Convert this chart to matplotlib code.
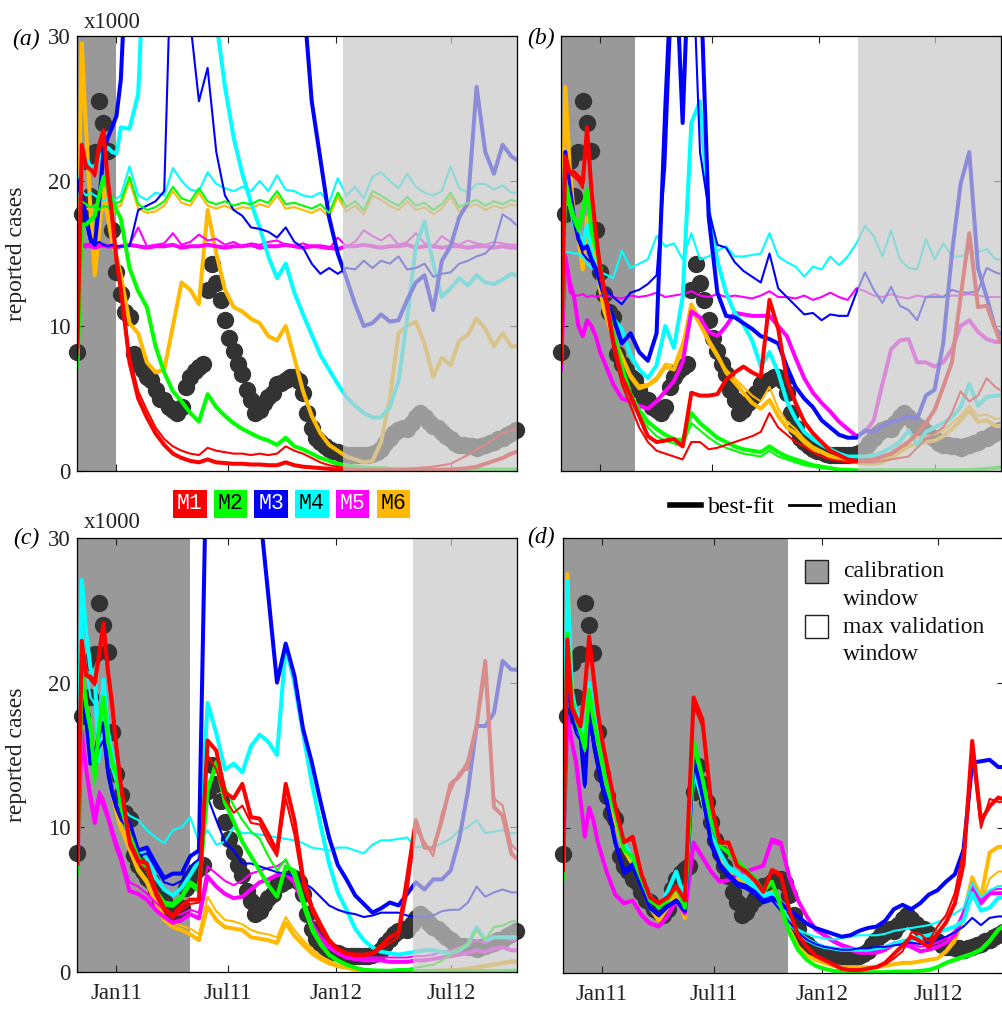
import numpy as np
import matplotlib
matplotlib.use("Agg")
import matplotlib.pyplot as plt
from matplotlib.lines import Line2D
from matplotlib.patches import Rectangle

plt.rcParams["font.family"] = ["Liberation Serif", "DejaVu Serif"]

# observed weekly reported cases (x1000), weeks since end of Oct 2010
obs_weeks = np.arange(102)
obs_cases = [8.2, 17.7, 21.4, 19.0, 22.0, 25.5, 24.0, 22.1, 16.6, 13.7,
             12.2, 11.0, 10.6, 8.1, 7.4, 7.0, 6.5, 6.3, 5.6, 5.0,
             4.9, 4.4, 4.2, 4.0, 4.4, 5.8, 6.5, 6.9, 7.2, 7.4,
             12.5, 14.3, 13.0, 11.8, 10.4, 9.2, 8.3, 7.4, 6.7, 5.6,
             4.9, 4.0, 4.2, 4.7, 5.1, 5.4, 6.0, 6.1, 6.3, 6.5,
             6.5, 6.2, 5.4, 4.0, 3.0, 2.3, 2.0, 1.7, 1.5, 1.4,
             1.3, 1.2, 1.1, 1.1, 1.1, 1.1, 1.1, 1.1, 1.2, 1.3,
             1.5, 1.9, 2.3, 2.6, 2.8, 3.0, 2.9, 3.3, 3.7, 4.0,
             3.7, 3.4, 3.1, 3.0, 2.7, 2.4, 2.2, 1.9, 1.8, 1.8,
             1.7, 1.7, 1.6, 1.7, 1.8, 1.9, 2.0, 2.2, 2.3, 2.5,
             2.6, 2.8]

# model output weeks
model_weeks = list(range(0, 10)) + list(range(10, 101, 2)) + [101]

# ---- panel (a) ----
a_m1_best = [8.6, 22.5, 21.0, 20.8, 20.5, 22.5, 23.5, 20.0, 17.5, 14.5,
             12.5, 7.5, 5.0, 3.7, 2.6, 1.8, 1.2, 0.9, 0.7, 0.6,
             0.8, 0.6, 0.55, 0.5, 0.5, 0.45, 0.45, 0.4, 0.4, 0.6,
             0.4, 0.3, 0.25, 0.2, 0.15, 0.1, 0.08, 0.06, 0.05, 0.05,
             0.05, 0.05, 0.05, 0.05, 0.05, 0.05, 0.06, 0.08, 0.1, 0.15,
             0.2, 0.3, 0.5, 0.7, 0.9, 1.2, 1.3]
a_m1_med = [8.0, 21.5, 21.2, 20.8, 20.3, 22.0, 23.0, 20.5, 18.0, 15.0,
            13.0, 8.0, 5.5, 4.2, 3.0, 2.2, 1.7, 1.4, 1.2, 1.1,
            1.6, 1.4, 1.3, 1.2, 1.2, 1.1, 1.2, 1.1, 1.2, 1.7,
            1.4, 1.2, 0.9, 0.6, 0.4, 0.3, 0.2, 0.15, 0.1, 0.1,
            0.1, 0.1, 0.1, 0.15, 0.2, 0.25, 0.3, 0.4, 0.5, 0.8,
            1.1, 1.5, 1.8, 2.2, 2.6, 2.8, 2.9]
a_m2_best = [7.2, 17.0, 17.0, 17.3, 17.6, 19.0, 20.3, 19.5, 18.6, 18.0,
             17.4, 14.0, 12.4, 11.3, 8.6, 6.8, 5.5, 4.8, 4.0, 3.4,
             5.3, 4.4, 3.8, 3.3, 2.9, 2.6, 2.3, 2.1, 1.8, 2.3,
             1.7, 1.5, 1.2, 0.9, 0.7, 0.5, 0.4, 0.3, 0.25, 0.2,
             0.2, 0.15, 0.15, 0.12, 0.12, 0.1, 0.1, 0.1, 0.1, 0.1,
             0.1, 0.1, 0.1, 0.1, 0.1, 0.1, 0.1]
a_m2_med = [18.7, 18.6, 18.4, 18.2, 18.3, 18.0, 18.3, 18.2, 17.9, 18.5,
            18.6, 20.3, 18.4, 18.0, 18.2, 18.6, 19.6, 18.8, 18.6, 19.5,
            18.6, 18.4, 18.6, 18.3, 18.5, 18.4, 18.7, 18.5, 19.3, 18.4,
            18.5, 18.3, 18.1, 18.4, 17.8, 19.2, 18.2, 18.6, 18.0, 19.3,
            19.0, 18.6, 18.3, 18.9, 18.3, 18.5, 18.0, 18.4, 19.2, 18.2,
            18.5, 18.7, 18.3, 18.6, 18.4, 18.7, 18.6]
a_m3_best = [20.0, 19.0, 17.5, 16.0, 15.6, 18.5, 22.0, 23.0, 23.7, 24.5,
             27.0, 40, 40, 40, 40, 40, 40, 40, 40, 40,
             40, 40, 40, 40, 40, 40, 40, 40, 40, 40,
             40, 33.0, 25.5, 21.5, 17.5, 15.0, 13.3, 11.5, 10.0, 10.2,
             10.8, 10.3, 10.4, 11.8, 13.0, 13.5, 11.1, 14.5, 15.5, 17.5,
             18.5, 26.5, 22.0, 20.5, 22.5, 21.7, 21.5]
a_m3_med = [20.0, 18.5, 17.0, 15.8, 15.6, 15.8, 15.6, 15.5, 15.6, 15.5,
            15.5, 15.5, 18.0, 18.3, 18.6, 19.3, 40, 40, 31.0, 25.5,
            27.8, 22.0, 19.0, 18.0, 17.6, 16.8, 16.7, 16.5, 16.1, 16.8,
            15.8, 15.4, 14.3, 13.6, 14.0, 13.6, 14.0, 13.9, 14.5, 14.0,
            14.5, 14.3, 14.8, 13.9, 14.0, 14.3, 13.4, 13.6, 13.7, 14.3,
            14.5, 14.8, 15.0, 15.6, 17.7, 17.3, 17.0]
a_m4_best = [19.0, 21.0, 21.5, 21.0, 21.0, 21.5, 22.0, 22.3, 22.0, 21.9,
             23.7, 23.6, 26.0, 40, 40, 40, 40, 40, 40, 40,
             40, 31.0, 26.5, 23.0, 20.5, 18.5, 16.8, 14.8, 13.3, 14.3,
             12.3, 10.8, 9.4, 8.0, 7.0, 6.0, 5.1, 4.5, 4.0, 3.7,
             3.7, 4.4, 6.2, 10.5, 15.5, 17.2, 14.3, 12.0, 12.6, 13.3,
             12.8, 13.5, 13.0, 12.9, 13.2, 13.6, 13.5]
a_m4_med = [19.3, 19.3, 19.0, 19.2, 19.0, 18.8, 18.6, 18.8, 18.5, 18.8,
            19.0, 21.0, 19.0, 18.7, 19.2, 19.0, 20.9, 20.0, 19.4, 19.3,
            20.6, 19.8, 19.5, 19.3, 19.6, 19.3, 20.0, 19.3, 20.4, 19.4,
            19.3, 19.0, 18.9, 19.2, 18.5, 20.2, 19.0, 19.6, 18.8, 20.3,
            20.6, 20.0, 19.5, 20.5, 19.6, 19.2, 19.0, 19.3, 21.0, 19.5,
            19.2, 19.8, 19.8, 19.4, 19.7, 19.2, 19.2]
a_m5_best = [15.4, 15.5, 15.6, 15.5, 15.4, 15.5, 15.6, 15.5, 15.5, 15.4,
             15.5, 15.6, 15.5, 15.4, 15.5, 15.5, 15.6, 15.4, 15.5, 15.5,
             15.6, 15.5, 15.4, 15.5, 15.5, 15.6, 15.4, 15.5, 15.5, 15.6,
             15.5, 15.4, 15.5, 15.5, 15.4, 15.3, 15.5, 15.5, 15.6, 15.5,
             15.4, 15.5, 15.5, 15.6, 15.4, 15.5, 15.5, 15.4, 15.5, 15.5,
             15.4, 15.5, 15.5, 15.4, 15.5, 15.4, 15.4]
a_m5_med = [15.5, 15.6, 15.4, 15.8, 15.6, 15.6, 15.5, 15.4, 15.6, 15.5,
            15.5, 15.6, 16.8, 15.5, 15.6, 15.7, 16.4, 15.6, 15.8, 16.3,
            15.9, 16.0, 15.6, 15.8, 15.5, 15.7, 15.6, 15.8, 15.9, 15.6,
            15.5, 15.7, 15.5, 15.4, 15.3, 16.1, 15.5, 15.8, 16.6, 16.2,
            15.9, 16.3, 15.6, 15.8, 16.4, 15.7, 15.5, 16.2, 15.8, 15.6,
            15.9, 15.7, 15.6, 15.8, 15.7, 15.6, 15.6]
a_m6_best = [13.0, 29.5, 23.5, 18.0, 13.5, 16.5, 19.5, 17.5, 15.8, 14.8,
             13.5, 10.2, 9.5, 7.5, 6.8, 7.0, 10.0, 13.0, 12.5, 11.5,
             18.0, 15.0, 12.5, 11.3, 11.0, 10.5, 10.2, 9.3, 9.0, 10.0,
             7.8, 5.5, 3.8, 2.6, 1.8, 1.4, 1.0, 0.8, 0.6, 0.7,
             2.0, 5.0, 9.5, 10.0, 10.3, 8.8, 6.5, 7.8, 7.3, 9.0,
             9.4, 10.5, 9.8, 8.6, 9.5, 8.6, 8.6]
a_m6_med = [18.3, 18.2, 18.1, 18.0, 18.0, 17.8, 18.0, 17.9, 17.7, 18.2,
            18.3, 20.0, 18.1, 17.8, 17.9, 18.3, 19.3, 18.5, 18.3, 19.2,
            18.3, 18.1, 18.3, 18.0, 18.2, 18.1, 18.4, 18.2, 19.0, 18.1,
            18.2, 18.0, 17.8, 18.1, 17.5, 18.9, 17.9, 18.3, 17.7, 19.0,
            18.7, 18.3, 18.0, 18.6, 18.0, 18.2, 17.7, 18.1, 18.9, 17.9,
            18.2, 18.4, 18.0, 18.3, 18.1, 18.4, 18.3]

# ---- panel (b) ----
b_m1_best = [7.5, 21.7, 20.6, 20.6, 20.3, 19.9, 23.7, 19.4, 16.5, 14.0,
             12.5, 9.0, 6.5, 5.2, 3.8, 2.4, 2.0, 2.1, 2.2, 1.7,
             5.4, 5.2, 5.2, 5.3, 6.3, 6.8, 7.2, 6.8, 6.5, 11.8,
             9.8, 6.3, 4.7, 3.4, 2.6, 2.0, 1.4, 1.1, 0.8, 0.7,
             0.7, 0.8, 1.0, 1.2, 1.6, 2.0, 2.6, 3.3, 4.2, 5.8,
             7.5, 12.0, 16.4, 11.3, 11.4, 9.8, 9.0]
b_m1_med = [7.5, 21.0, 20.5, 20.3, 20.0, 19.5, 23.0, 19.0, 16.0, 13.5,
            12.0, 8.5, 6.0, 4.5, 3.0, 2.0, 1.4, 1.2, 1.0, 0.8,
            2.0, 2.0, 1.5, 1.6, 1.8, 2.0, 2.2, 2.4, 2.7, 4.0,
            3.0, 2.5, 2.0, 1.7, 1.3, 1.0, 0.8, 0.7, 0.6, 0.6,
            0.6, 0.6, 0.7, 0.8, 0.9, 1.0, 1.6, 2.2, 2.6, 3.0,
            4.0, 5.5, 4.8, 5.2, 6.4, 5.8, 5.6]
b_m2_best = [7.7, 20.1, 18.5, 17.5, 16.8, 18.0, 19.4, 16.6, 15.5, 14.2,
             12.3, 9.5, 7.2, 5.3, 4.2, 3.4, 2.9, 2.5, 2.2, 2.1,
             4.0, 3.3, 2.8, 2.3, 2.0, 1.7, 1.5, 1.4, 1.3, 1.7,
             1.3, 1.0, 0.8, 0.6, 0.4, 0.3, 0.2, 0.1, 0.08, 0.05,
             0.05, 0.05, 0.05, 0.05, 0.05, 0.05, 0.05, 0.05, 0.05, 0.05,
             0.05, 0.06, 0.08, 0.1, 0.15, 0.2, 0.25]
b_m2_med = [7.7, 19.5, 18.0, 17.2, 16.5, 17.5, 19.0, 16.3, 15.2, 13.9,
            12.0, 9.2, 7.0, 5.0, 3.9, 3.0, 2.4, 2.1, 1.9, 1.7,
            3.3, 2.8, 2.3, 1.9, 1.6, 1.4, 1.2, 1.1, 1.0, 1.4,
            1.0, 0.8, 0.6, 0.4, 0.3, 0.2, 0.15, 0.1, 0.06, 0.05,
            0.05, 0.05, 0.05, 0.05, 0.05, 0.05, 0.05, 0.05, 0.05, 0.05,
            0.05, 0.06, 0.08, 0.1, 0.15, 0.2, 0.25]
b_m3_best = [11.0, 22.0, 19.5, 17.5, 16.0, 15.3, 15.5, 14.6, 14.0, 13.0,
             12.0, 10.6, 8.8, 9.5, 8.2, 7.6, 9.5, 25.0, 38.0, 24.0,
             40, 35.0, 17.5, 12.3, 10.7, 10.6, 10.2, 9.8, 9.3, 9.1,
             8.8, 7.2, 5.8, 5.0, 4.4, 3.5, 3.0, 2.5, 2.3, 2.3,
             2.8, 2.7, 3.1, 3.4, 3.5, 3.8, 3.6, 5.2, 5.6, 8.8,
             15.0, 19.8, 22.0, 14.0, 12.0, 9.8, 9.5]
b_m3_med = [11.4, 20.0, 18.5, 17.0, 16.0, 15.0, 14.6, 14.4, 13.6, 13.0,
            12.7, 12.0, 11.5, 12.3, 12.5, 12.9, 13.5, 21.0, 36.0, 25.0,
            38.0, 22.0, 18.0, 15.6, 15.4, 14.4, 13.8, 13.4, 13.0, 15.0,
            12.6, 12.0, 11.4, 10.8, 10.9, 10.4, 10.8, 10.7, 10.7, 12.3,
            13.7, 12.5, 11.6, 12.7, 11.4, 11.1, 10.4, 12.0, 12.0, 12.0,
            12.5, 12.3, 12.3, 12.4, 14.0, 13.7, 13.6]
b_m4_best = [12.0, 20.0, 18.5, 17.0, 16.5, 15.5, 17.0, 15.0, 14.0, 13.0,
             12.0, 10.5, 9.8, 8.0, 7.0, 6.4, 7.3, 10.0, 8.5, 12.0,
             24.0, 25.5, 18.0, 14.5, 12.3, 10.9, 10.1, 9.0, 7.2, 8.2,
             6.8, 4.8, 3.6, 2.7, 2.2, 1.8, 1.5, 1.2, 1.0, 1.0,
             1.0, 1.1, 1.3, 1.6, 2.0, 2.8, 1.8, 2.7, 3.0, 3.3,
             3.7, 4.4, 6.0, 4.5, 5.1, 5.2, 5.2]
b_m4_med = [15.0, 15.1, 15.1, 15.0, 15.0, 14.7, 14.3, 14.0, 13.8, 13.7,
            13.6, 13.3, 15.2, 14.0, 14.3, 14.6, 16.2, 15.5, 15.7, 14.6,
            16.4, 14.6, 14.8, 15.2, 15.5, 14.8, 14.8, 14.9, 15.0, 16.4,
            14.8, 14.4, 14.1, 13.4, 14.1, 13.9, 14.8, 14.2, 14.8, 15.7,
            16.9, 16.2, 14.8, 16.6, 14.6, 14.0, 13.9, 16.0, 14.6, 15.7,
            14.8, 14.8, 15.0, 15.1, 15.3, 14.6, 14.6]
b_m5_best = [7.0, 14.8, 13.0, 12.0, 10.0, 9.3, 10.4, 10.0, 9.3, 8.2,
             7.5, 6.0, 5.0, 4.8, 4.5, 4.3, 4.8, 5.5, 6.2, 7.5,
             11.0, 10.6, 9.6, 9.3, 10.0, 10.9, 10.8, 10.7, 10.7, 10.7,
             10.0, 9.3, 7.8, 6.4, 5.4, 4.7, 4.1, 3.4, 2.9, 2.4,
             2.7, 3.5, 6.0, 8.4, 9.0, 9.1, 7.5, 7.5, 7.2, 7.5,
             8.4, 10.0, 10.4, 9.6, 9.1, 8.9, 8.9]
b_m5_med = [7.0, 15.0, 12.3, 12.1, 12.1, 12.2, 12.0, 12.1, 12.0, 12.1,
            12.1, 12.0, 11.9, 12.1, 12.0, 12.1, 12.3, 12.0, 12.1, 12.2,
            12.4, 12.1, 12.0, 12.2, 12.0, 12.1, 12.0, 11.9, 12.1, 12.4,
            12.0, 12.0, 11.9, 12.1, 11.8, 12.0, 12.3, 12.0, 11.8, 12.6,
            12.4, 12.1, 12.0, 12.2, 12.0, 11.9, 12.1, 12.0, 12.2, 12.0,
            12.1, 12.1, 12.2, 12.1, 12.0, 12.0, 12.0]
b_m6_best = [12.0, 26.5, 21.0, 17.5, 16.0, 13.9, 17.5, 16.0, 14.5, 12.5,
             11.0, 9.2, 7.9, 6.5, 5.7, 5.9, 6.3, 7.2, 7.0, 8.5,
             11.5, 10.3, 9.0, 8.0, 6.8, 6.1, 5.4, 4.7, 4.3, 4.9,
             3.8, 3.0, 2.6, 2.0, 1.5, 1.3, 1.0, 0.8, 0.7, 0.6,
             0.5, 0.5, 0.6, 0.9, 1.3, 1.7, 1.9, 2.0, 2.1, 2.4,
             2.9, 3.5, 4.2, 3.4, 3.5, 3.1, 3.1]
b_m6_med = [12.0, 25.5, 20.5, 17.3, 15.8, 14.2, 17.0, 15.8, 14.3, 12.4,
            11.0, 9.3, 8.0, 6.7, 5.9, 6.0, 6.5, 7.4, 7.3, 8.9,
            11.0, 10.0, 8.8, 7.8, 7.0, 6.4, 5.8, 5.2, 4.8, 5.8,
            4.3, 3.4, 2.9, 2.2, 1.7, 1.4, 1.1, 0.9, 0.8, 0.7,
            0.7, 0.7, 0.8, 1.1, 1.5, 2.0, 2.3, 2.4, 2.5, 2.8,
            3.3, 3.8, 4.5, 3.8, 3.9, 3.6, 3.6]

# ---- panel (c) ----
c_m1_best = [7.5, 22.9, 20.5, 20.4, 20.0, 22.0, 24.1, 20.9, 18.5, 15.5,
             13.0, 9.0, 7.7, 7.5, 5.6, 4.4, 3.9, 4.6, 5.0, 5.0,
             16.0, 15.3, 12.4, 12.0, 13.0, 10.7, 10.6, 9.5, 8.3, 13.0,
             10.5, 6.5, 4.5, 3.3, 2.2, 1.6, 1.3, 1.2, 1.2, 1.3,
             1.8, 2.4, 2.7, 6.5, 10.5, 8.6, 8.5, 10.5, 13.0, 13.5,
             14.5, 17.0, 21.5, 11.4, 10.8, 8.2, 7.9]
c_m1_med = [7.5, 22.0, 20.5, 20.2, 19.8, 21.5, 23.5, 20.5, 18.0, 15.0,
            12.5, 8.7, 7.5, 7.0, 5.3, 4.2, 3.7, 4.3, 4.7, 4.8,
            15.0, 14.0, 12.0, 11.0, 11.5, 10.3, 10.2, 9.0, 8.0, 12.0,
            9.5, 6.0, 4.2, 3.0, 2.0, 1.5, 1.2, 1.1, 1.1, 1.2,
            1.6, 2.0, 2.4, 5.5, 9.8, 9.0, 8.0, 11.0, 12.5, 13.8,
            14.0, 17.0, 20.5, 12.0, 11.5, 8.8, 8.5]
c_m2_best = [6.8, 21.0, 18.5, 17.0, 13.5, 17.0, 19.0, 16.0, 14.5, 13.8,
             11.5, 9.5, 7.9, 7.2, 5.6, 4.8, 4.7, 5.2, 6.2, 5.8,
             12.5, 14.5, 11.7, 10.4, 9.0, 8.0, 7.0, 6.0, 5.2, 7.3,
             7.0, 5.0, 3.1, 2.0, 1.2, 0.8, 0.5, 0.3, 0.15, 0.1,
             0.08, 0.06, 0.05, 0.05, 0.05, 0.05, 0.05, 0.05, 0.05, 0.05,
             0.05, 0.05, 0.05, 0.05, 0.06, 0.08, 0.1]
c_m2_med = [6.8, 20.5, 18.0, 16.5, 13.0, 16.5, 18.5, 15.8, 14.2, 13.5,
            11.2, 9.3, 7.7, 7.0, 5.4, 4.6, 4.5, 5.0, 6.0, 5.5,
            13.0, 14.0, 12.8, 11.5, 10.5, 9.7, 9.2, 8.0, 7.0, 7.8,
            6.5, 4.5, 2.8, 1.8, 1.1, 0.7, 0.5, 0.3, 0.2, 0.15,
            0.15, 0.15, 0.2, 0.2, 0.3, 0.4, 0.5, 0.8, 1.2, 1.6,
            2.0, 2.9, 2.2, 3.1, 3.2, 3.5, 3.5]
c_m3_best = [12.4, 20.0, 17.5, 14.4, 15.0, 16.5, 17.2, 14.0, 12.5, 11.4,
             11.0, 10.3, 8.4, 8.6, 7.5, 6.5, 6.8, 6.8, 8.0, 8.4,
             40, 40, 40, 40, 40, 40, 32.0, 26.0, 20.0, 22.7,
             20.5, 16.8, 14.5, 11.8, 9.3, 7.4, 6.4, 5.3, 4.7, 4.1,
             4.4, 4.8, 4.6, 5.4, 6.2, 5.7, 6.4, 6.4, 7.0, 9.2,
             12.5, 17.0, 17.0, 17.9, 21.5, 20.9, 20.9]
c_m3_med = [12.4, 19.0, 17.0, 14.4, 14.5, 15.5, 16.0, 13.5, 12.2, 11.2,
            10.5, 9.8, 8.0, 8.2, 7.2, 6.2, 6.0, 6.3, 7.3, 7.8,
            12.1, 10.5, 9.0, 8.4, 7.5, 7.5, 7.3, 7.1, 6.9, 6.8,
            6.6, 6.2, 5.8, 5.2, 4.6, 4.3, 4.1, 4.0, 3.8, 3.9,
            4.1, 4.1, 4.1, 3.9, 3.8, 3.8, 3.9, 4.2, 4.3, 4.3,
            4.8, 5.9, 5.2, 5.5, 5.7, 5.5, 5.5]
c_m4_best = [12.0, 27.1, 23.5, 21.0, 20.2, 15.0, 20.2, 16.7, 15.0, 14.0,
             12.0, 9.3, 8.5, 8.0, 6.5, 5.7, 5.3, 5.8, 6.7, 7.7,
             18.6, 16.5, 14.0, 14.4, 13.8, 15.6, 16.4, 15.9, 15.0, 22.5,
             20.0, 16.5, 13.1, 10.2, 7.5, 5.5, 4.3, 3.0, 2.2, 1.7,
             1.4, 1.3, 1.2, 1.3, 1.4, 1.5, 1.5, 1.4, 1.3, 1.5,
             1.9, 3.1, 2.2, 2.4, 2.4, 2.4, 2.4]
c_m4_med = [11.0, 24.0, 21.0, 19.0, 18.5, 14.5, 18.0, 15.5, 14.0, 13.0,
            11.5, 10.8, 10.5, 9.8, 9.3, 8.9, 9.8, 10.0, 10.7, 9.0,
            9.8, 8.8, 9.0, 10.0, 9.6, 9.6, 9.5, 9.4, 9.3, 9.2,
            9.1, 8.9, 8.6, 8.5, 8.4, 8.6, 8.6, 8.4, 8.2, 8.8,
            9.1, 9.1, 9.2, 9.3, 8.6, 8.7, 8.6, 8.9, 9.2, 9.8,
            10.0, 10.5, 9.6, 9.7, 9.8, 9.6, 9.6]
c_m5_best = [7.0, 16.7, 14.0, 12.0, 10.3, 12.1, 11.5, 10.7, 9.6, 8.6,
             7.8, 5.6, 5.4, 5.0, 4.3, 3.8, 3.4, 3.6, 4.0, 3.7,
             6.6, 5.9, 5.4, 5.1, 5.2, 5.7, 6.2, 6.4, 6.7, 6.8,
             6.2, 4.8, 3.3, 2.3, 1.7, 1.3, 1.0, 0.9, 0.8, 0.8,
             0.8, 0.7, 0.7, 0.7, 0.8, 0.8, 0.9, 1.0, 1.1, 1.2,
             1.3, 1.5, 1.4, 1.6, 1.7, 1.5, 1.5]
c_m5_med = [7.0, 16.0, 14.0, 12.5, 11.0, 12.5, 12.0, 11.0, 10.0, 9.0,
            8.2, 6.2, 5.9, 5.4, 4.8, 4.3, 3.9, 4.0, 4.3, 4.1,
            7.3, 6.8, 6.3, 6.0, 6.3, 6.8, 7.0, 7.2, 7.3, 7.7,
            6.6, 5.0, 3.5, 2.5, 1.9, 1.5, 1.2, 1.1, 1.0, 1.0,
            1.0, 1.0, 1.0, 1.0, 1.1, 1.1, 1.2, 1.4, 1.5, 1.7,
            1.9, 2.2, 2.0, 2.3, 2.4, 2.2, 2.2]
c_m6_best = [7.0, 20.0, 18.5, 16.0, 15.0, 17.0, 16.5, 14.0, 12.5, 11.0,
             10.0, 8.5, 7.0, 6.2, 4.8, 3.6, 3.1, 2.9, 2.6, 2.2,
             4.5, 3.6, 3.1, 3.0, 2.9, 2.4, 2.3, 2.2, 2.0, 3.4,
             2.5, 1.9, 1.3, 0.9, 0.6, 0.4, 0.3, 0.15, 0.1, 0.08,
             0.05, 0.05, 0.05, 0.05, 0.06, 0.07, 0.08, 0.1, 0.12, 0.15,
             0.2, 0.3, 0.4, 0.5, 0.6, 0.7, 0.7]
c_m6_med = [7.0, 20.5, 18.8, 16.3, 15.2, 17.3, 16.8, 14.2, 12.7, 11.2,
            10.2, 8.7, 7.2, 6.4, 5.0, 3.9, 3.4, 3.2, 3.0, 2.6,
            5.2, 4.2, 3.6, 3.5, 3.3, 2.9, 2.7, 2.6, 2.4, 3.8,
            2.9, 2.2, 1.6, 1.1, 0.8, 0.5, 0.35, 0.2, 0.15, 0.1,
            0.1, 0.1, 0.1, 0.1, 0.1, 0.1, 0.12, 0.15, 0.18, 0.2,
            0.3, 0.4, 0.5, 0.6, 0.7, 0.8, 0.8]

# ---- panel (d) ----
d_m1_best = [7.1, 23.0, 18.3, 17.6, 17.0, 19.5, 23.2, 20.5, 18.0, 16.0,
             14.5, 11.5, 9.0, 9.4, 6.8, 5.2, 4.8, 5.2, 6.0, 5.0,
             19.0, 17.5, 11.8, 9.0, 9.0, 7.4, 7.0, 6.4, 5.6, 7.1,
             6.8, 4.3, 2.6, 1.8, 1.2, 0.9, 0.6, 0.3, 0.2, 0.2,
             0.3, 0.4, 0.7, 1.3, 1.9, 2.5, 2.2, 1.8, 2.7, 3.5,
             4.8, 7.5, 16.0, 10.5, 11.5, 12.1, 12.0]
d_m1_med = [7.1, 22.5, 18.5, 17.8, 17.2, 19.3, 22.8, 20.3, 18.0, 16.0,
            14.3, 11.3, 9.0, 9.2, 6.8, 5.3, 4.9, 5.3, 6.0, 5.1,
            18.5, 17.0, 11.6, 9.0, 8.9, 7.4, 7.0, 6.5, 5.7, 7.0,
            6.6, 4.2, 2.6, 1.8, 1.2, 0.9, 0.6, 0.3, 0.2, 0.2,
            0.3, 0.4, 0.6, 1.0, 1.5, 2.8, 2.7, 2.2, 3.2, 4.0,
            5.5, 8.5, 15.0, 10.0, 12.0, 11.8, 11.8]
d_m2_best = [6.5, 23.4, 19.0, 17.5, 16.6, 15.5, 19.5, 17.5, 16.0, 14.5,
             13.0, 11.0, 8.5, 8.0, 6.5, 5.0, 4.6, 5.0, 6.0, 4.5,
             16.0, 13.5, 10.5, 8.8, 8.3, 7.6, 7.0, 6.5, 5.6, 6.3,
             4.6, 2.8, 1.6, 0.9, 0.5, 0.3, 0.15, 0.1, 0.05, 0.05,
             0.05, 0.05, 0.05, 0.1, 0.1, 0.1, 0.15, 0.2, 0.4, 0.7,
             0.9, 1.1, 1.3, 1.6, 2.2, 3.0, 3.2]
d_m2_med = [6.5, 22.8, 19.0, 17.5, 16.5, 15.3, 19.0, 17.3, 15.8, 14.3,
            12.8, 10.8, 8.5, 7.9, 6.4, 5.0, 4.5, 4.9, 5.9, 4.5,
            15.5, 13.2, 10.4, 8.8, 8.4, 7.8, 7.2, 6.6, 5.7, 6.2,
            4.5, 2.7, 1.5, 0.9, 0.5, 0.3, 0.15, 0.1, 0.05, 0.05,
            0.05, 0.05, 0.05, 0.1, 0.1, 0.1, 0.15, 0.25, 0.45, 0.75,
            1.0, 1.2, 1.4, 1.7, 2.3, 3.0, 3.2]
d_m3_best = [8.0, 21.0, 18.0, 17.0, 16.5, 13.0, 18.5, 16.0, 14.5, 13.0,
             12.0, 9.0, 7.0, 7.5, 6.0, 4.5, 4.0, 4.6, 5.0, 4.3,
             15.0, 12.5, 9.0, 7.5, 6.8, 6.2, 6.0, 5.6, 5.0, 5.2,
             4.8, 4.3, 3.9, 3.4, 3.1, 2.9, 2.7, 2.5, 2.6, 2.9,
             3.1, 3.2, 3.6, 4.4, 4.7, 4.4, 4.8, 5.4, 5.7, 6.3,
             6.8, 8.5, 14.5, 14.6, 14.7, 14.2, 14.2]
d_m3_med = [8.0, 20.5, 17.5, 16.5, 16.0, 12.8, 18.0, 15.5, 14.0, 12.6,
            11.6, 8.8, 6.8, 7.2, 5.8, 4.4, 3.9, 4.5, 4.9, 4.2,
            14.5, 12.0, 8.7, 7.3, 6.6, 6.0, 5.8, 5.4, 4.8, 5.0,
            4.3, 3.5, 2.8, 2.3, 2.0, 1.8, 1.7, 1.6, 1.6, 1.7,
            1.7, 1.8, 1.8, 1.9, 2.0, 2.1, 2.0, 2.1, 2.3, 2.5,
            2.8, 3.2, 3.8, 3.3, 3.8, 3.9, 3.9]
d_m4_best = [12.0, 27.0, 19.5, 18.0, 17.5, 16.0, 20.0, 18.0, 16.5, 14.5,
             13.0, 11.0, 9.0, 7.8, 6.5, 5.3, 4.5, 5.6, 7.0, 5.0,
             14.0, 12.0, 9.5, 8.3, 7.2, 6.8, 6.4, 5.9, 5.3, 5.4,
             4.5, 3.5, 2.8, 2.3, 2.0, 1.8, 1.7, 1.6, 1.6, 1.6,
             1.6, 1.7, 1.8, 2.0, 2.2, 2.3, 2.5, 2.6, 2.8, 3.0,
             3.2, 3.6, 5.5, 4.3, 4.5, 5.2, 5.2]
d_m4_med = [12.0, 26.0, 19.5, 18.0, 17.5, 16.0, 19.8, 17.8, 16.3, 14.5,
            13.0, 11.0, 9.0, 7.8, 6.5, 5.3, 4.6, 5.7, 7.0, 5.1,
            14.0, 12.0, 9.6, 8.4, 7.4, 7.0, 6.6, 6.1, 5.5, 5.6,
            4.7, 3.7, 3.0, 2.7, 2.5, 2.4, 2.3, 2.4, 2.5, 2.6,
            2.6, 2.6, 2.7, 2.9, 3.0, 3.1, 3.2, 3.3, 3.5, 3.8,
            4.1, 4.5, 6.2, 5.2, 5.7, 6.0, 6.0]
d_m5_best = [7.0, 17.7, 16.0, 14.5, 12.0, 9.4, 11.4, 10.5, 9.0, 8.0,
             7.0, 5.4, 4.8, 5.0, 4.0, 3.4, 3.2, 3.9, 5.0, 4.1,
             9.0, 8.0, 7.0, 6.3, 6.4, 6.8, 7.0, 7.2, 7.4, 9.2,
             9.0, 6.6, 5.0, 3.9, 3.0, 2.6, 2.2, 1.9, 1.6, 1.4,
             1.4, 1.4, 1.6, 2.0, 2.0, 1.8, 1.5, 1.6, 1.8, 2.1,
             2.6, 4.0, 5.9, 4.8, 5.5, 5.5, 5.5]
d_m5_med = [7.0, 17.2, 15.8, 14.3, 12.0, 9.6, 11.4, 10.4, 9.0, 8.0,
            7.0, 5.5, 4.9, 5.0, 4.1, 3.5, 3.3, 3.9, 4.9, 4.1,
            8.8, 7.9, 7.0, 6.4, 6.4, 6.8, 7.0, 7.2, 7.4, 9.0,
            8.8, 6.5, 5.0, 3.9, 3.1, 2.7, 2.3, 2.0, 1.8, 1.6,
            1.6, 1.6, 1.8, 2.1, 2.2, 2.0, 1.8, 1.9, 2.1, 2.4,
            2.9, 4.3, 6.2, 5.1, 5.7, 5.8, 5.8]
d_m6_best = [7.0, 27.5, 19.0, 17.5, 17.0, 14.5, 19.0, 17.0, 15.5, 14.0,
             12.5, 10.5, 8.5, 7.5, 6.0, 4.5, 3.6, 4.5, 5.5, 3.8,
             14.5, 12.0, 9.3, 8.0, 7.0, 6.5, 6.2, 5.8, 5.2, 5.6,
             4.5, 3.0, 1.8, 1.2, 0.9, 0.7, 0.5, 0.4, 0.4, 0.4,
             0.4, 0.4, 0.5, 0.6, 0.7, 0.7, 0.8, 0.9, 1.0, 1.5,
             2.3, 4.0, 6.6, 5.2, 8.3, 8.7, 8.7]
d_m6_med = [7.0, 26.0, 19.0, 17.5, 17.0, 14.5, 18.8, 16.8, 15.3, 13.8,
            12.3, 10.3, 8.4, 7.4, 5.9, 4.5, 3.6, 4.5, 5.4, 3.8,
            14.0, 11.7, 9.2, 7.9, 7.0, 6.5, 6.2, 5.8, 5.2, 5.5,
            4.4, 3.0, 1.8, 1.2, 0.9, 0.7, 0.5, 0.4, 0.4, 0.4,
            0.4, 0.4, 0.5, 0.6, 0.7, 0.7, 0.8, 0.9, 1.0, 1.4,
            2.1, 3.6, 5.5, 4.8, 6.5, 7.0, 7.0]

model_names = ["M1", "M2", "M3", "M4", "M5", "M6"]
model_colors = ["#ff0000", "#00ff00", "#0000ff", "#00ffff", "#ff00ff", "#ffb900"]
name_colors = ["white", "black", "white", "black", "white", "black"]
month_ticks = [8.9, 34.7, 59.5, 86.2]
month_labels = ["Jan11", "Jul11", "Jan12", "Jul12"]

panels = [
    dict(tag="(a)", best=[a_m1_best, a_m2_best, a_m3_best, a_m4_best, a_m5_best, a_m6_best],
         med=[a_m1_med, a_m2_med, a_m3_med, a_m4_med, a_m5_med, a_m6_med],
         cal_end=8.9, val_end=61.2, rect=[0.0773, 0.5341, 0.4386, 0.4303]),
    dict(tag="(b)", best=[b_m1_best, b_m2_best, b_m3_best, b_m4_best, b_m5_best, b_m6_best],
         med=[b_m1_med, b_m2_med, b_m3_med, b_m4_med, b_m5_med, b_m6_med],
         cal_end=17.05, val_end=68.4, rect=[0.5599, 0.5341, 0.4391, 0.4303]),
    dict(tag="(c)", best=[c_m1_best, c_m2_best, c_m3_best, c_m4_best, c_m5_best, c_m6_best],
         med=[c_m1_med, c_m2_med, c_m3_med, c_m4_med, c_m5_med, c_m6_med],
         cal_end=25.9, val_end=77.3, rect=[0.0773, 0.0386, 0.4386, 0.4293]),
    dict(tag="(d)", best=[d_m1_best, d_m2_best, d_m3_best, d_m4_best, d_m5_best, d_m6_best],
         med=[d_m1_med, d_m2_med, d_m3_med, d_m4_med, d_m5_med, d_m6_med],
         cal_end=51.6, val_end=None, rect=[0.5619, 0.0376, 0.4401, 0.4303]),
]

XMAX = 101.3

fig = plt.figure(figsize=(10.02, 10.11), dpi=100)

for k, p in enumerate(panels):
    ax = fig.add_axes(p["rect"])
    ax.axvspan(0, p["cal_end"], color="#999999", lw=0, zorder=0)
    ax.plot(obs_weeks, obs_cases, "o", color="#333333", ms=12.5, mec="none",
            zorder=1, clip_on=False)
    for i in reversed(range(6)):
        ax.plot(model_weeks, p["med"][i], color=model_colors[i], lw=1.5, zorder=2)
        ax.plot(model_weeks, p["best"][i], color=model_colors[i], lw=2.9, zorder=2)
    if p["val_end"] is not None:
        ax.axvspan(p["val_end"], XMAX, color=(0.784, 0.784, 0.784), alpha=0.7,
                   lw=0, zorder=3)
    ax.set_xlim(0, XMAX)
    ax.set_ylim(0, 30)
    ax.set_xticks(month_ticks)
    ax.set_yticks([0, 10, 20, 30])
    ax.tick_params(direction="in", top=True, right=True, length=5, width=0.8,
                   labelsize=16.5, colors="#222222")
    for s in ax.spines.values():
        s.set_linewidth(0.9)
        s.set_zorder(4)
    if k < 2:
        ax.tick_params(labelbottom=False)
    else:
        ax.set_xticklabels(month_labels)
        ax.tick_params(axis="x", pad=8)
    if k % 2 == 1:
        ax.tick_params(labelleft=False)
    else:
        ax.set_ylabel("reported cases", fontsize=17, color="#222222")
        ax.yaxis.set_label_coords(-0.115, 0.5)
        ax.tick_params(axis="y", pad=5)

# panel tags and scale notes
fig.text(0.026, 0.961, "(a)", fontsize=17, style="italic", ha="center", va="center")
fig.text(0.540, 0.962, "(b)", fontsize=17, style="italic", ha="center", va="center")
fig.text(0.026, 0.467, "(c)", fontsize=17, style="italic", ha="center", va="center")
fig.text(0.540, 0.468, "(d)", fontsize=17, style="italic", ha="center", va="center")
fig.text(0.112, 0.978, "x1000", fontsize=16.5, ha="center", va="center", color="#222222")
fig.text(0.112, 0.483, "x1000", fontsize=16.5, ha="center", va="center", color="#222222")

# model colour key
for i, name in enumerate(model_names):
    fig.text(0.1895 + i * 0.0406, 0.5015, name, fontsize=15.5, family="Liberation Mono",
             ha="center", va="center", color=name_colors[i],
             bbox=dict(boxstyle="square,pad=0.18", fc=model_colors[i], ec="none"))

# line style key
fig.legend(handles=[Line2D([], [], color="k", lw=4), Line2D([], [], color="k", lw=2)],
           labels=["best-fit", "median"], loc="center", bbox_to_anchor=(0.782, 0.4985),
           ncol=2, frameon=False, fontsize=17, handlelength=1.3, handletextpad=0.3,
           columnspacing=0.6)

# window key inside panel (d)
fig.add_artist(Rectangle((0.8034, 0.4233), 0.023, 0.0228, transform=fig.transFigure,
                         fc="#999999", ec="#222222", lw=1))
fig.add_artist(Rectangle((0.8034, 0.3689), 0.023, 0.0228, transform=fig.transFigure,
                         fc="white", ec="#222222", lw=1))
fig.text(0.8413, 0.4352, "calibration", fontsize=17, va="center", color="#111111")
fig.text(0.8413, 0.4075, "window", fontsize=17, va="center", color="#111111")
fig.text(0.8413, 0.3798, "max validation", fontsize=17, va="center", color="#111111")
fig.text(0.8413, 0.3531, "window", fontsize=17, va="center", color="#111111")

fig.savefig("out.png", dpi=100)
